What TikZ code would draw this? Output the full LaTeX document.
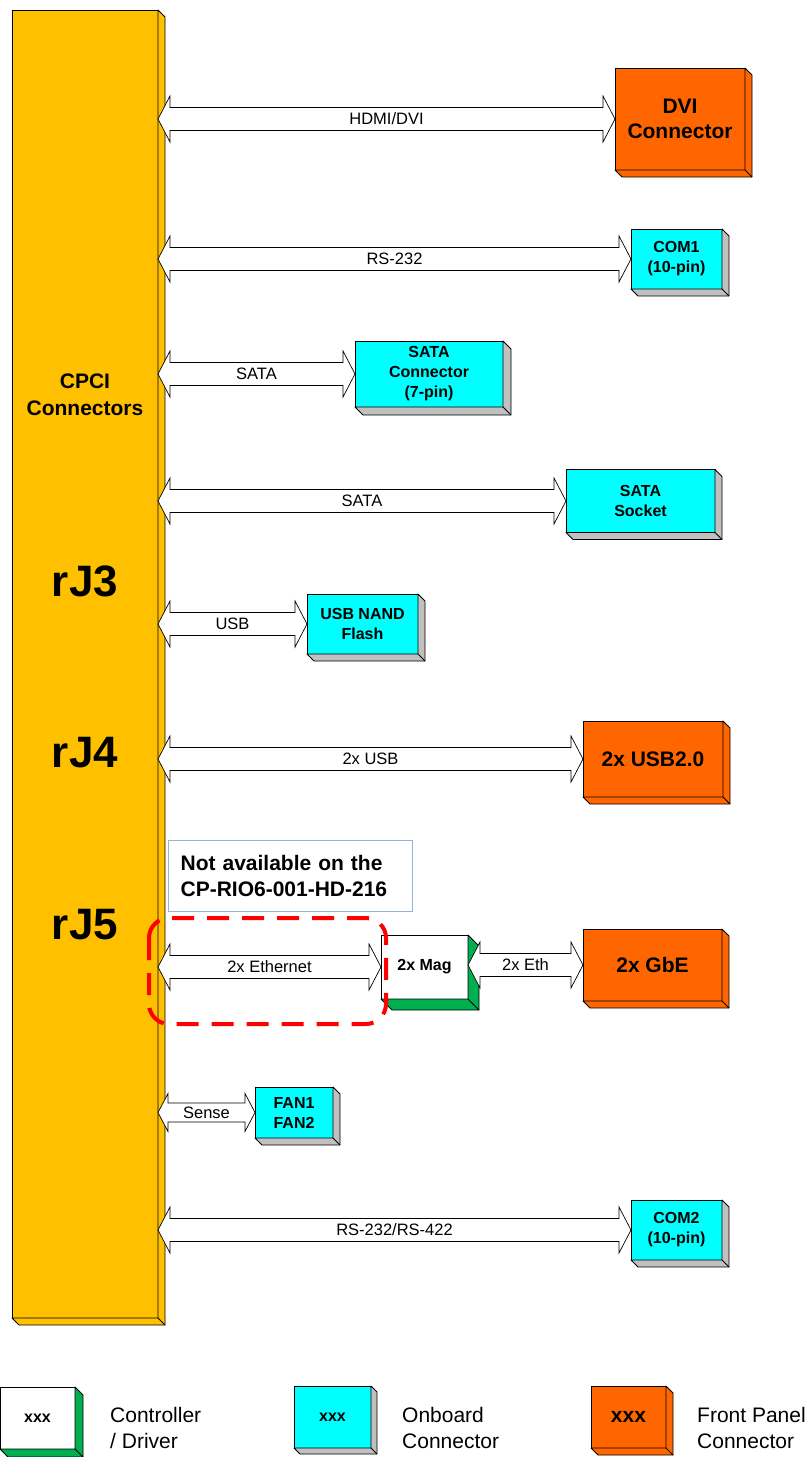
\documentclass[tikz,border=0pt]{standalone}
\usepackage{fontspec}
\setmainfont{Liberation Sans}
\usetikzlibrary{calc}

\definecolor{cpciyellow}{HTML}{FFC000}
\definecolor{onboardcyan}{HTML}{00FFFF}
\definecolor{frontorange}{HTML}{FF6600}
\definecolor{ctrlgreen}{HTML}{00B050}
\definecolor{sidegray}{HTML}{C0C0C0}
\definecolor{noteblue}{HTML}{95B3D7}

% sizes of the block arrows
\def\shafthw{11.5pt}
\def\headhw{23pt}
\def\tiplen{12pt}

% side faces of a raised box
\newcommand{\bevel}[3]{%
  \filldraw[fill=#3, line width=0.8pt, line join=round]
    (#1.north east) -- ++(#2,#2) -- ($(#1.south east)+(#2,#2)$)
    -- ($(#1.south west)+(#2,#2)$) -- (#1.south west) -- (#1.south east) -- cycle;
  \draw[line width=0.8pt] (#1.south east) -- ++(#2,#2);
}

% double headed block arrow from one box to another
\newcommand{\busarrow}[3]{%
  \draw[busline] let \p1=(#1.east), \p2=(#2.west) in
    (\x1,\y2) -- (\x1+\tiplen,\y2+\headhw) -- (\x1+\tiplen,\y2+\shafthw)
    -- (\x2-\tiplen,\y2+\shafthw) -- (\x2-\tiplen,\y2+\headhw) -- (\x2,\y2)
    -- (\x2-\tiplen,\y2-\headhw) -- (\x2-\tiplen,\y2-\shafthw)
    -- (\x1+\tiplen,\y2-\shafthw) -- (\x1+\tiplen,\y2-\headhw) -- cycle
    ({(\x1+\x2)/2},\y2) node[buslabel] (#2-lbl) {#3};
}

\tikzset{
  blk/.style={draw, line width=0.8pt, outer sep=0pt, inner sep=0pt, align=center,
    font=\fontsize{16}{20}\selectfont\bfseries},
  onboard/.style={blk, fill=onboardcyan},
  front/.style={blk, fill=frontorange, font=\fontsize{21}{25}\selectfont\bfseries},
  ctrl/.style={blk, fill=white},
  busline/.style={draw=black, fill=white, line width=0.7pt, line join=miter},
  buslabel/.style={font=\fontsize{16.5}{19}\selectfont, inner sep=0pt},
  cpcitext/.style={font=\fontsize{21}{27}\selectfont\bfseries, align=center, inner sep=0pt},
  rjtext/.style={font=\fontsize{44}{50}\selectfont\bfseries, inner sep=0pt},
  notebox/.style={draw=noteblue, line width=1.2pt, fill=white, anchor=north west,
    minimum height=71pt, text width=220pt, inner xsep=12pt, align=left,
    font=\fontsize{21}{26}\selectfont\bfseries},
  redframe/.style={draw=red, line width=4pt, rounded corners=20pt,
    dash pattern=on 22pt off 13pt},
  legtext/.style={font=\fontsize{21}{26}\selectfont, align=left, anchor=west, inner sep=0pt},
}

\begin{document}
\begin{tikzpicture}[x=1pt, y=-1pt]
  \useasboundingbox (0,0) rectangle (807,1457);

  % backplane connector block
  \node[blk, fill=cpciyellow, minimum width=146pt, minimum height=1308pt] (cpci) at (85,664) {};
  \bevel{cpci}{7}{cpciyellow}
  \node[cpcitext] (cpci-title) at (85,395) {CPCI\\Connectors};
  \node[rjtext] (rj3) at (85,581) {rJ3};
  \node[rjtext] (rj4) at (85,753) {rJ4};
  \node[rjtext] (rj5) at (85,925) {rJ5};

  % target boxes
  \node[front, minimum width=130pt, minimum height=102pt] (dvi) at (680,119) {DVI\\Connector};
  \bevel{dvi}{7}{frontorange}
  \node[onboard, minimum width=91pt, minimum height=60pt] (com1) at (676.5,259) {COM1\\(10-pin)};
  \bevel{com1}{7}{sidegray}
  \node[onboard, minimum width=148pt, minimum height=66pt] (sata) at (429,374) {SATA\\Connector\\(7-pin)};
  \bevel{sata}{8}{sidegray}
  \node[onboard, minimum width=149pt, minimum height=63pt] (socket) at (640.5,501) {SATA\\Socket};
  \bevel{socket}{7}{sidegray}
  \node[onboard, minimum width=111pt, minimum height=60pt] (nand) at (362.5,624) {USB NAND\\Flash};
  \bevel{nand}{7}{sidegray}
  \node[front, minimum width=140pt, minimum height=76pt] (usb) at (653,759) {2x USB2.0};
  \bevel{usb}{7}{frontorange}
  \node[ctrl, minimum width=87pt, minimum height=64pt] (mag) at (424.5,967) {2x Mag};
  \bevel{mag}{11}{ctrlgreen}
  \node[front, minimum width=139pt, minimum height=72pt] (gbe) at (652.5,965) {2x GbE};
  \bevel{gbe}{7}{frontorange}
  \node[onboard, minimum width=78pt, minimum height=51pt] (fan) at (294,1112.5) {FAN1\\FAN2};
  \bevel{fan}{7}{sidegray}
  \node[onboard, minimum width=91pt, minimum height=60pt] (com2) at (676.5,1230) {COM2\\(10-pin)};
  \bevel{com2}{7}{sidegray}

  % buses
  \busarrow{cpci}{dvi}{HDMI/DVI}
  \busarrow{cpci}{com1}{RS-232}
  \busarrow{cpci}{sata}{SATA}
  \busarrow{cpci}{socket}{SATA}
  \busarrow{cpci}{nand}{USB}
  \busarrow{cpci}{usb}{2x USB}
  \busarrow{cpci}{mag}{2x Ethernet}
  \busarrow{mag}{gbe}{2x Eth}
  \begingroup
    \def\shafthw{9.5pt}\def\headhw{19pt}\def\tiplen{10pt}
    \busarrow{cpci}{fan}{Sense}
  \endgroup
  \busarrow{cpci}{com2}{RS-232/RS-422}

  % variant note
  \node[notebox] (note) at (168,840) {Not available on the\\CP-RIO6-001-HD-216};
  \draw[redframe] (149,918) rectangle (386,1024);

  % legend
  \node[ctrl, minimum width=75pt, minimum height=62pt] (leg-ctrl) at (37.5,1418) {xxx};
  \bevel{leg-ctrl}{8}{ctrlgreen}
  \node[legtext] (leg-ctrl-txt) at (110,1428) {Controller\\/ Driver};
  \node[onboard, minimum width=77pt, minimum height=62pt] (leg-onb) at (332.5,1417) {xxx};
  \bevel{leg-onb}{6}{sidegray}
  \node[legtext] (leg-onb-txt) at (402,1428) {Onboard\\Connector};
  \node[front, minimum width=75pt, minimum height=62pt] (leg-front) at (628.5,1417) {xxx};
  \bevel{leg-front}{7}{frontorange}
  \node[legtext] (leg-front-txt) at (697,1428) {Front Panel\\Connector};
\end{tikzpicture}
\end{document}
